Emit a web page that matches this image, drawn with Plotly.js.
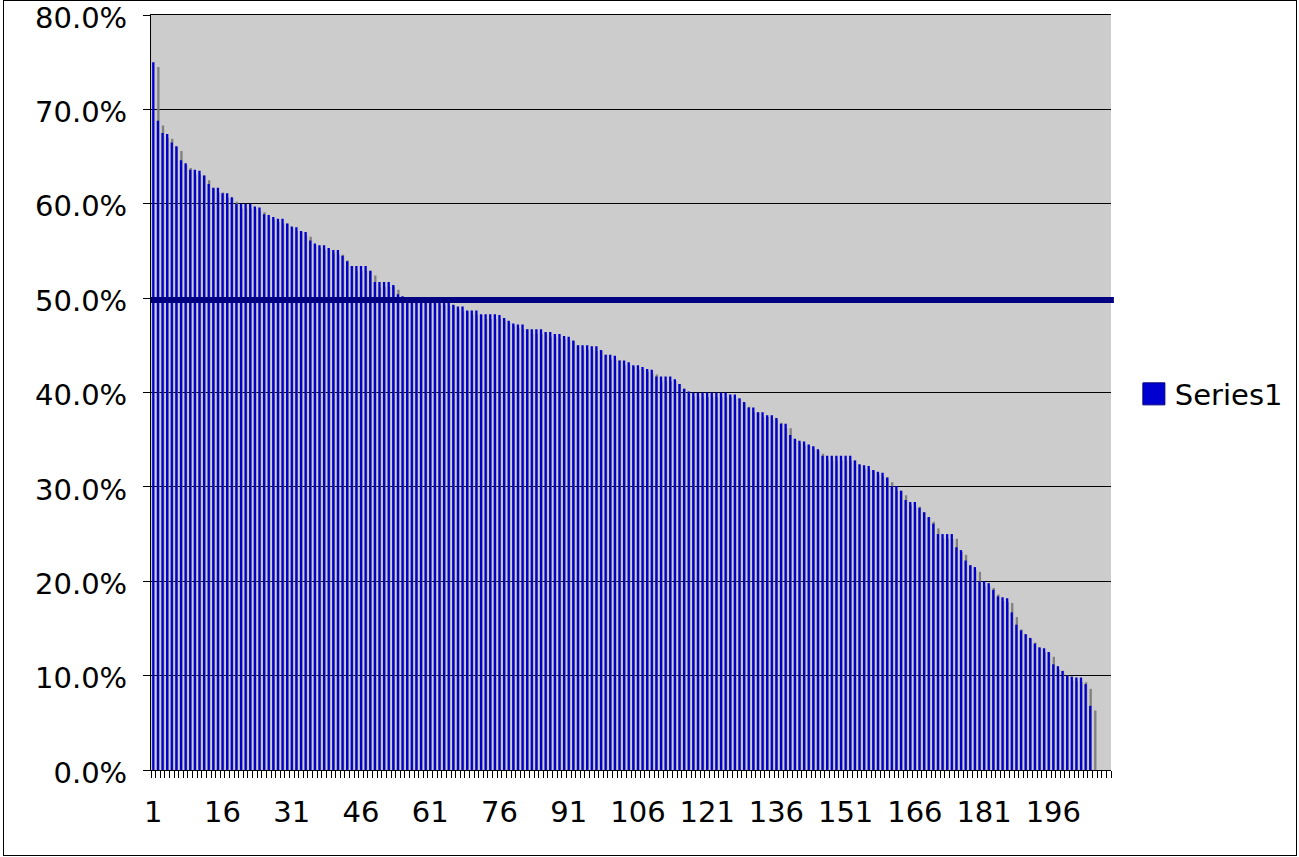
<!DOCTYPE html>
<html><head><meta charset="utf-8">
<script src="https://cdn.plot.ly/plotly-3.0.1.min.js"></script>
<style>
body{margin:0;background:#fff}
#wrap{position:relative;width:1299px;height:857px}
#chart{width:1299px;height:857px}
#frame{position:absolute;left:3px;top:0px;width:1292px;height:854px;border:1px solid #000;pointer-events:none}
</style>
</head><body><div id="wrap"><div id="chart"></div><div id="frame"></div></div>
<script>
// category count on the x axis (last few categories are empty)
const categoryCount = 208;
const categories = Array.from({length: categoryCount}, (_, i) => i + 1);
// Series1 values in percent
const values = [
75.0,68.8,67.5,67.4,66.5,66.1,64.6,64.3,63.6,63.6,
63.5,63.0,62.1,61.7,61.7,61.1,61.1,60.7,60.0,60.0,
60.0,60.0,59.7,59.6,58.9,58.8,58.6,58.4,58.4,57.9,
57.6,57.5,57.1,57.0,56.1,55.8,55.6,55.6,55.3,55.1,
55.1,54.5,53.9,53.4,53.4,53.4,53.4,52.9,51.7,51.7,
51.7,51.7,51.4,50.4,50.2,50.0,50.0,50.0,50.0,50.0,
50.0,49.8,49.8,49.7,49.6,49.3,49.1,49.1,48.7,48.7,
48.7,48.3,48.3,48.3,48.3,48.2,47.9,47.6,47.3,47.2,
47.2,46.7,46.7,46.7,46.7,46.4,46.4,46.2,46.2,46.0,
45.9,45.5,45.0,45.0,45.0,44.9,44.9,44.5,44.0,44.0,
43.9,43.4,43.4,43.2,42.9,42.9,42.7,42.5,42.4,41.7,
41.7,41.7,41.7,41.4,40.9,40.4,40.1,40.0,40.0,40.0,
40.0,40.0,40.0,40.0,40.0,39.8,39.8,39.4,39.0,38.4,
38.4,37.9,37.9,37.6,37.6,37.3,36.7,36.7,35.5,35.1,
34.9,34.8,34.5,34.3,34.0,33.3,33.3,33.3,33.3,33.3,
33.3,33.3,32.8,32.4,32.3,32.2,31.8,31.6,31.5,31.0,
30.1,30.1,29.6,28.6,28.4,28.4,27.8,27.3,26.8,26.1,
25.0,25.0,25.0,25.0,23.6,23.3,22.2,21.7,21.5,20.0,
20.0,19.8,19.1,18.4,18.3,18.2,16.7,15.4,14.8,14.4,
14.0,13.4,13.0,12.9,12.5,11.2,11.0,10.5,10.0,9.9,
9.8,9.8,9.1,6.8
];
const xTickValues = [1,16,31,46,61,76,91,106,121,136,151,166,181,196];
const xTickLabels = ['1','16','31','46','61','76','91','106','121','136','151','166','181','196'];
const yTickValues = [0,10,20,30,40,50,60,70,80];
const yTickLabels = ['0.0%','10.0%','20.0%','30.0%','40.0%','50.0%','60.0%','70.0%','80.0%'];
const referenceLine = [49.8];
const seriesName = 'Series1';

const FONT = {family: 'DejaVu Sans, Verdana, sans-serif', size: 29, color: '#000'};
const BLUE = '#0000D0';
const SHADOW = '#808080';

const shadowTrace = {
  type: 'bar', x: categories, y: values,
  base: -0.5, width: 0.5, offset: 0.85,
  marker: {color: SHADOW, line: {width: 0}},
  showlegend: false, hoverinfo: 'skip'
};
const mainTrace = {
  type: 'bar', name: seriesName, x: categories, y: values,
  width: 0.5, offset: -0.25,
  marker: {color: BLUE, line: {width: 0}}
};

const layout = {
  width: 1299, height: 857,
  paper_bgcolor: 'rgba(0,0,0,0)', plot_bgcolor: '#cccccc',
  margin: {l: 151, r: 187, t: 15, b: 87, pad: 0},
  barmode: 'overlay',
  font: FONT,
  xaxis: {
    type: 'linear', range: [0.5, categoryCount + 0.5],
    tickmode: 'array', tickvals: xTickValues, ticktext: xTickLabels,
    ticks: '', showgrid: false, zeroline: false,
    showline: true, mirror: true, linecolor: '#000', linewidth: 1,
    ticklabelstandoff: 16, ticklabeloverflow: 'allow',
    minor: {ticks: 'outside', tick0: 0.5, dtick: 1, ticklen: 7, tickcolor: '#000', tickwidth: 1, showgrid: false},
    tickfont: FONT, fixedrange: true
  },
  yaxis: {
    range: [0, 80], tickmode: 'array', tickvals: yTickValues, ticktext: yTickLabels,
    ticks: 'outside', ticklen: 7, tickcolor: '#000', tickwidth: 1,
    showgrid: true, gridcolor: '#000', gridwidth: 1,
    zeroline: false, showline: true, linecolor: '#000', linewidth: 1,
    ticklabelstandoff: 10, ticklabeloverflow: 'allow',
    tickfont: FONT, fixedrange: true
  },
  legend: {
    x: 1.0238, xanchor: 'left', y: 0.498, yanchor: 'middle',
    font: FONT, bgcolor: 'rgba(0,0,0,0)', borderwidth: 0,
    itemclick: false, itemdoubleclick: false
  },
  shapes: [
    {type: 'line', xref: 'paper', x0: 0, x1: 1.003, yref: 'y', y0: referenceLine[0], y1: referenceLine[0],
     line: {color: '#000080', width: 6}}
  ]
};

Plotly.newPlot('chart', [shadowTrace, mainTrace], layout, {displayModeBar: false, staticPlot: true}).then(function (gd) {
  // enlarge the legend swatch to match an Excel-style legend key
  const txt = gd.querySelector('.legend .legendtext');
  const sw = gd.querySelector('.legend .legendpoints path');
  if (txt && sw) {
    const tx = parseFloat(txt.getAttribute('x')) || 40;
    const c = tx - 10 - 11;
    sw.setAttribute('transform', 'translate(' + c + ',0)');
    sw.setAttribute('d', 'M-11,-11H11V11H-11Z');
    sw.style.stroke = '#000080';
    sw.style.strokeWidth = '1px';
  }
  // Excel draws value labels a touch below their gridline
  gd.querySelectorAll('.ytick text').forEach(function (t) {
    const tr = t.getAttribute('transform') || '';
    t.setAttribute('transform', tr + ' translate(0,2.5)');
  });
});
</script>
</body></html>
